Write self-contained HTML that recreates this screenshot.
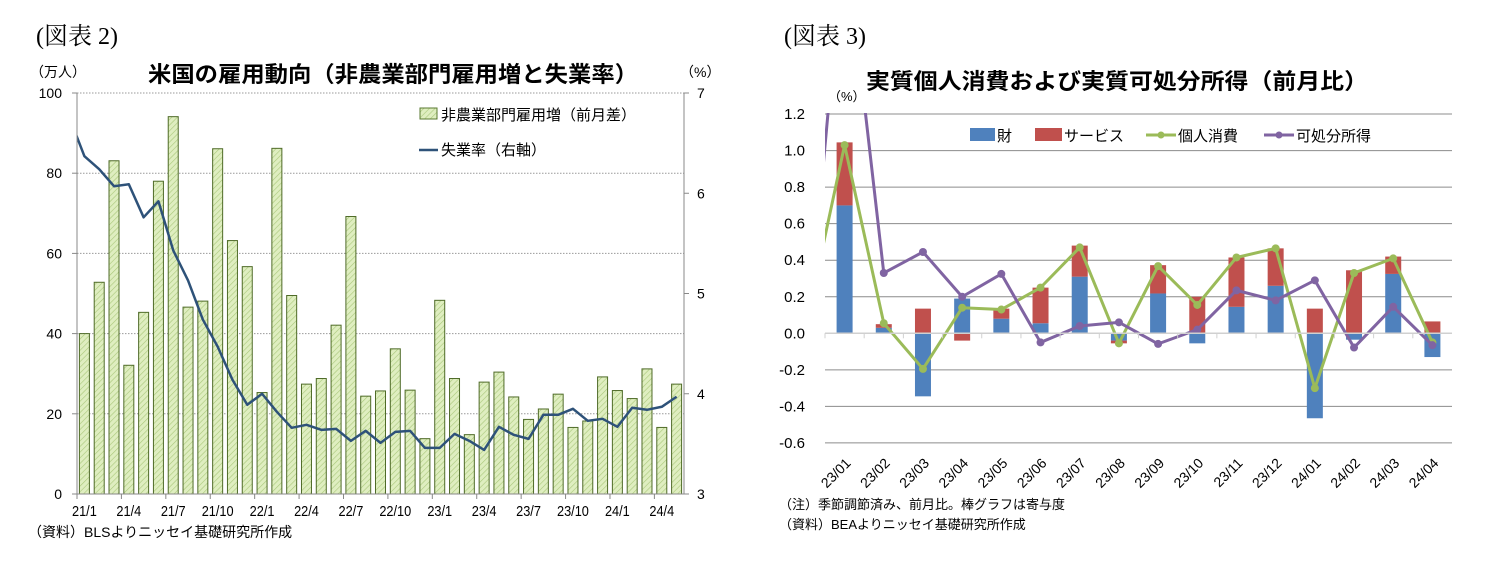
<!DOCTYPE html>
<html><head><meta charset="utf-8">
<style>
html,body{margin:0;padding:0;background:#fff;}
svg{display:block;font-family:"Liberation Sans","Noto Sans CJK JP",sans-serif;}
</style></head>
<body>
<svg id="root" width="1489" height="570" viewBox="0 0 1489 570">
<defs>
<pattern id="hatch" patternUnits="userSpaceOnUse" width="4" height="4" patternTransform="rotate(45)">
<rect width="4" height="4" fill="#dfeec0"/>
<line x1="0" y1="0" x2="0" y2="4" stroke="#a9c77a" stroke-width="1.2"/>
</pattern>
<clipPath id="clipR"><rect x="825" y="113" width="627" height="340"/></clipPath>
<clipPath id="clipL"><rect x="77" y="93" width="607" height="402"/></clipPath>
</defs>
<g id="left">
<text x="36" y="44" font-family="Liberation Serif,'Noto Serif CJK SC',serif" font-size="24">(図表 2)</text>
<text x="30" y="77" font-size="14">（万人）</text>
<text x="148" y="82" font-size="22" font-weight="bold" textLength="490" lengthAdjust="spacingAndGlyphs">米国の雇用動向（非農業部門雇用増と失業率）</text>
<text x="680" y="77" font-size="14">（%）</text>
<g id="lgrid"></g><g id="lbars"></g><g id="lline" clip-path="url(#clipL)"></g><g id="laxes"></g>
<g>
<rect x="420" y="108" width="17" height="11" fill="url(#hatch)" stroke="#5a7a30" stroke-width="1"/>
<text x="441" y="120" font-size="15">非農業部門雇用増（前月差）</text>
<line x1="419" y1="150" x2="438" y2="150" stroke="#2e5279" stroke-width="2.5"/>
<text x="441" y="155" font-size="15">失業率（右軸）</text>
</g>
<text x="28" y="537" font-size="14">（資料）BLSよりニッセイ基礎研究所作成</text>
</g>
<g id="right">
<text x="784" y="44" font-family="Liberation Serif,'Noto Serif CJK SC',serif" font-size="24">(図表 3)</text>
<text x="866" y="89" font-size="22" font-weight="bold" textLength="502" lengthAdjust="spacingAndGlyphs">実質個人消費および実質可処分所得（前月比）</text>
<text x="828" y="101" font-size="13">（%）</text>
<g id="rgrid"></g><g id="rbars"></g><g id="rlines" clip-path="url(#clipR)"></g><g id="raxes"></g>
<g>
<rect x="970" y="128" width="25" height="13" fill="#4f81bd"/>
<text x="997" y="141" font-size="15">財</text>
<rect x="1035" y="128" width="27" height="13" fill="#c0504d"/>
<text x="1064" y="141" font-size="15">サービス</text>
<line x1="1146" y1="135" x2="1176" y2="135" stroke="#9bbb59" stroke-width="3"/>
<circle cx="1161" cy="135" r="3.5" fill="#9bbb59"/>
<text x="1178" y="141" font-size="15">個人消費</text>
<line x1="1264" y1="135" x2="1294" y2="135" stroke="#8064a2" stroke-width="3"/>
<circle cx="1279" cy="135" r="3.5" fill="#8064a2"/>
<text x="1296" y="141" font-size="15">可処分所得</text>
</g>
<text x="779" y="509" font-size="13">（注）季節調節済み、前月比。棒グラフは寄与度</text>
<text x="779" y="529" font-size="13">（資料）BEAよりニッセイ基礎研究所作成</text>
</g>
</svg>
<script>
// ---- left chart data ----
const payrolls = [40,52.8,83.1,32.1,45.3,78,94.1,46.6,48.1,86.1,63.2,56.7,25.3,86.2,49.5,27.4,28.8,42.1,69.2,24.4,25.7,36.2,25.9,13.8,48.3,28.8,14.8,27.9,30.4,24.2,18.6,21.2,24.9,16.6,18.2,29.2,25.8,23.8,31.2,16.6,27.4];
const unemployment = [6.37,6.24,6.07,6.09,5.76,5.92,5.43,5.13,4.74,4.47,4.14,3.89,4.0,3.82,3.66,3.69,3.64,3.65,3.53,3.63,3.51,3.62,3.63,3.46,3.46,3.6,3.53,3.44,3.67,3.59,3.55,3.79,3.79,3.85,3.73,3.75,3.67,3.86,3.84,3.87,3.97];
const prevUnemployment = 6.75;
const leftTickLabels = ["21/1","21/4","21/7","21/10","22/1","22/4","22/7","22/10","23/1","23/4","23/7","23/10","24/1","24/4"];
const leftYTicks = [0,20,40,60,80,100];
const rightYTicks = [3,4,5,6,7];
// ---- right chart data ----
const months = ["23/01","23/02","23/03","23/04","23/05","23/06","23/07","23/08","23/09","23/10","23/11","23/12","24/01","24/02","24/03","24/04"];
const goods = [0.70,0.03,-0.345,0.19,0.08,0.055,0.31,-0.04,0.218,-0.055,0.145,0.26,-0.465,-0.035,0.325,-0.13];
const services = [0.345,0.02,0.135,-0.04,0.055,0.195,0.17,-0.015,0.155,0.2,0.27,0.205,0.135,0.345,0.095,0.065];
const consumption = [1.03,0.055,-0.195,0.14,0.13,0.25,0.47,-0.055,0.368,0.155,0.415,0.465,-0.3,0.33,0.41,-0.05];
const income = [2.2,0.33,0.445,0.2,0.325,-0.05,0.04,0.06,-0.058,0.02,0.235,0.18,0.29,-0.078,0.145,-0.065];
const prevConsumption = 0.03, prevIncome = -0.15;
const rYTicks = [-0.6,-0.4,-0.2,0,0.2,0.4,0.6,0.8,1.0,1.2];

const NS="http://www.w3.org/2000/svg";
function mk(tag,attrs,parent){const e=document.createElementNS(NS,tag);for(const k in attrs)e.setAttribute(k,attrs[k]);parent.appendChild(e);return e;}

// left scales
const LX0=77,LX1=684,LY0=494,LY1=93;
const lbw=(LX1-LX0)/payrolls.length;
const lx=i=>LX0+lbw*(i+0.5);
const ly=v=>LY0-(v/100)*(LY0-LY1);
const ry=v=>LY0-((v-3)/4)*(LY0-LY1);
const lgrid=document.getElementById('lgrid');
leftYTicks.forEach(t=>{
 if(t>0){const g=mk('line',{x1:LX0,x2:LX1,y1:ly(t),y2:ly(t),stroke:'#9a9a9a','stroke-width':1,'stroke-dasharray':'1.5 1.5'},lgrid);
 }
 const tx=mk('text',{x:62,y:ly(t)+5,'font-size':14,'text-anchor':'end'},lgrid);tx.textContent=t;
 
});
rightYTicks.forEach(t=>{
 const tx=mk('text',{x:697,y:ry(t)+5,'font-size':14},lgrid);tx.textContent=t;
 
 const tk=mk('line',{x1:LX1,x2:LX1+5,y1:ry(t),y2:ry(t),stroke:'#888'},lgrid);
 
});
const lbars=document.getElementById('lbars');
payrolls.forEach((v,i)=>{
 const r=mk('rect',{x:lx(i)-5,y:ly(v),width:10,height:LY0-ly(v),fill:'url(#hatch)',stroke:'#4f6b28','stroke-width':1},lbars);
 
});
const lline=document.getElementById('lline');
const lpts=[lx(-1)+','+ry(prevUnemployment)].concat(unemployment.map((v,i)=>lx(i)+','+ry(v)));
const lp=mk('polyline',{points:lpts.join(' '),fill:'none',stroke:'#2e5279','stroke-width':2.5,'stroke-linejoin':'round'},lline);

const laxes=document.getElementById('laxes');
let a=mk('line',{x1:LX0,x2:LX0,y1:LY1,y2:LY0,stroke:'#888'},laxes);
a=mk('line',{x1:LX1,x2:LX1,y1:LY1,y2:LY0,stroke:'#888'},laxes);
a=mk('line',{x1:LX0,x2:LX1,y1:LY0,y2:LY0,stroke:'#888'},laxes);
leftYTicks.forEach(t=>{const k=mk('line',{x1:LX0-5,x2:LX0,y1:ly(t),y2:ly(t),stroke:'#888'},laxes);});
leftTickLabels.forEach((s,j)=>{
 const i=j*3;
 const k=mk('line',{x1:LX0+lbw*i,x2:LX0+lbw*i,y1:LY0,y2:LY0+5,stroke:'#888'},laxes);
 
 const t=mk('text',{x:lx(i),y:516,'font-size':15,'text-anchor':'middle',transform:`translate(${lx(i)},0) scale(0.85,1) translate(${-lx(i)},0)`},laxes);
 t.textContent=s;
});

// right scales
const RX0=825,RX1=1452,RY0=333.3;
const rcw=(RX1-RX0)/months.length;
const cx=i=>RX0+rcw*(i+0.5);
const vy=v=>RY0-v*182.7;
const rgrid=document.getElementById('rgrid');
rYTicks.forEach(t=>{
 if(Math.abs(t)>1e-9){const g=mk('line',{x1:RX0,x2:RX1,y1:vy(t),y2:vy(t),stroke:'#8c8c8c','stroke-width':1},rgrid);
 }
 const tx=mk('text',{x:805,y:vy(t)+5,'font-size':15,'text-anchor':'end'},rgrid);tx.textContent=t.toFixed(1);
 
});
const rbars=document.getElementById('rbars');
months.forEach((m,i)=>{
 const g=goods[i],s=services[i];
 let pos=0,neg=0;
 [[g,'#4f81bd','goods-bar'],[s,'#c0504d','services-bar']].forEach(([v,c,n])=>{
  let y0,y1;
  if(v>=0){y0=pos;y1=pos+v;pos=y1;}else{y0=neg;y1=neg+v;neg=y1;}
  const r=mk('rect',{x:cx(i)-8,y:Math.min(vy(y0),vy(y1)),width:16,height:Math.abs(vy(y1)-vy(y0)),fill:c},rbars);
  
 });
});
const rlines=document.getElementById('rlines');
[[consumption,prevConsumption,'#9bbb59','consumption'],[income,prevIncome,'#8064a2','income']].forEach(([arr,prev,c,n])=>{
 const pts=[(cx(-1))+','+vy(prev)].concat(arr.map((v,i)=>cx(i)+','+vy(v)));
 const p=mk('polyline',{points:pts.join(' '),fill:'none',stroke:c,'stroke-width':3,'stroke-linejoin':'round'},rlines);
 
 arr.forEach((v,i)=>{const d=mk('circle',{cx:cx(i),cy:vy(v),r:4,fill:c},rlines);
  });
});
const raxes=document.getElementById('raxes');
a=mk('line',{x1:RX0,x2:RX1,y1:vy(0),y2:vy(0),stroke:'#d0d0d0','stroke-width':1.5},raxes);
months.forEach((m,i)=>{
 const k=mk('line',{x1:RX0+rcw*i,x2:RX0+rcw*i,y1:vy(0),y2:vy(0)+5,stroke:'#d0d0d0'},raxes);
 
 const x=cx(i)+7,y=464;
 const t=mk('text',{x:x,y:y,'font-size':14,'text-anchor':'end',transform:`rotate(-45 ${x} ${y})`},raxes);
 t.textContent=m;
});
</script>
</body></html>
